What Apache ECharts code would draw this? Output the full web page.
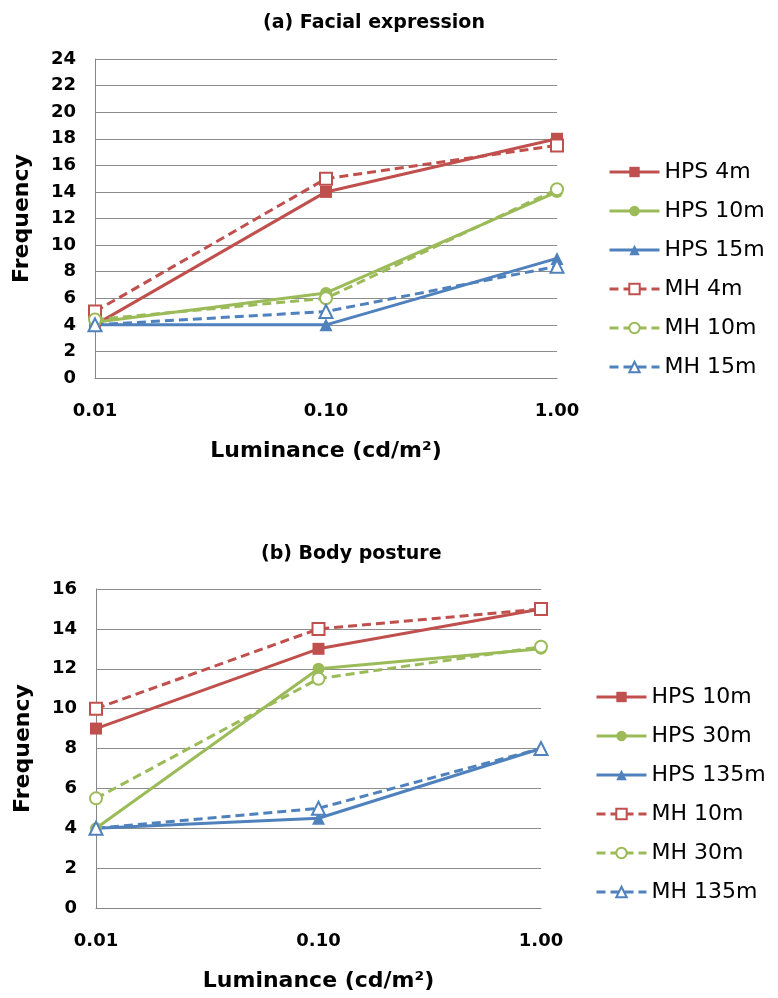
<!DOCTYPE html>
<html>
<head>
<meta charset="utf-8">
<script src="https://cdn.jsdelivr.net/npm/echarts@6/dist/echarts.min.js"></script>
<style>
  html, body { margin: 0; padding: 0; background: #fff; }
  #chartA, #chartB { position: absolute; left: 0; width: 778px; height: 499px; }
  #chartA { top: 0; }
  #chartB { top: 499px; }
</style>
</head>
<body>
<div id="chartA"></div>
<div id="chartB"></div>
<script>
// luminance levels (cd/m2), log x axis
var luminance = [0.01, 0.1, 1];

// (a) Facial expression
var namesA = ['HPS 4m', 'HPS 10m', 'HPS 15m', 'MH 4m', 'MH 10m', 'MH 15m'];
var hps4m = [4, 14, 18];
var hps10mA = [4.2, 6.4, 14];
var hps15m = [4, 4, 9];
var mh4m = [5, 15, 17.5];
var mh10mA = [4.4, 6, 14.2];
var mh15m = [4, 5, 8.4];

// (b) Body posture
var namesB = ['HPS 10m', 'HPS 30m', 'HPS 135m', 'MH 10m', 'MH 30m', 'MH 135m'];
var hps10mB = [9, 13, 15];
var hps30m = [4, 12, 13];
var hps135m = [4, 4.5, 8];
var mh10mB = [10, 14, 15];
var mh30m = [5.5, 11.5, 13.1];
var mh135m = [4, 5, 8];

var RED = '#C0504D', GREEN = '#9BBB59', BLUE = '#4F81BD';
var FONT = 'DejaVu Sans';

function pairs(vals) {
  return vals.map(function (v, i) { return [luminance[i], v]; });
}

function makeSeries(name, vals, color, symbol, dashed) {
  return {
    name: name,
    type: 'line',
    data: pairs(vals),
    symbol: symbol,
    symbolSize: symbol.indexOf('riangle') >= 0 ? 13 : 12,
    lineStyle: { color: color, width: 3, type: dashed ? [9, 5] : 'solid' },
    itemStyle: { color: color, borderColor: color, borderWidth: dashed ? 1 : 0 },
    emphasis: { disabled: true },
    animation: false
  };
}

function buildOption(cfg) {
  return {
    animation: false,
    title: {
      text: cfg.title,
      left: cfg.titleLeft,
      top: cfg.titleTop,
      textStyle: { fontFamily: FONT, fontWeight: 'bold', fontSize: 19, color: '#000' }
    },
    legend: {
      orient: 'vertical',
      left: cfg.legendLeft,
      top: cfg.legendTop,
      itemWidth: 50,
      itemHeight: 13,
      itemGap: 17,
      data: cfg.names,
      lineStyle: { width: 3 },
      textStyle: { fontFamily: FONT, fontSize: 22, color: '#000' }
    },
    grid: cfg.grid,
    xAxis: {
      type: 'log',
      logBase: 10,
      min: 0.01,
      max: 1,
      name: 'Luminance (cd/m²)',
      nameLocation: 'middle',
      nameGap: 62,
      nameTextStyle: { fontFamily: FONT, fontWeight: 'bold', fontSize: 22, color: '#000' },
      axisLine: { lineStyle: { color: '#868686', width: 1 } },
      axisTick: { show: false },
      splitLine: { show: false },
      minorSplitLine: { show: false },
      axisLabel: {
        margin: 24,
        fontFamily: FONT, fontWeight: 'bold', fontSize: 18, color: '#000',
        formatter: function (v) { return Number(v).toFixed(2); }
      }
    },
    yAxis: {
      type: 'value',
      min: 0,
      max: cfg.yMax,
      interval: 2,
      name: 'Frequency',
      nameLocation: 'middle',
      nameGap: 62,
      nameTextStyle: { fontFamily: FONT, fontWeight: 'bold', fontSize: 22, color: '#000' },
      axisLine: { show: true, lineStyle: { color: '#868686', width: 1 } },
      axisTick: { show: false },
      splitLine: { lineStyle: { color: '#8c8c8c', width: 1 } },
      axisLabel: { margin: 19, fontFamily: FONT, fontWeight: 'bold', fontSize: 18, color: '#000' }
    },
    series: cfg.series
  };
}

var optA = buildOption({
  title: '(a) Facial expression',
  titleLeft: 258, titleTop: 9,
  names: namesA,
  legendLeft: 603, legendTop: 156,
  grid: { left: 95, top: 59, width: 462, height: 319 },
  yMax: 24,
  series: [
    makeSeries(namesA[0], hps4m, RED, 'rect', false),
    makeSeries(namesA[1], hps10mA, GREEN, 'circle', false),
    makeSeries(namesA[2], hps15m, BLUE, 'triangle', false),
    makeSeries(namesA[3], mh4m, RED, 'emptyRect', true),
    makeSeries(namesA[4], mh10mA, GREEN, 'emptyCircle', true),
    makeSeries(namesA[5], mh15m, BLUE, 'emptyTriangle', true)
  ]
});

var optB = buildOption({
  title: '(b) Body posture',
  titleLeft: 256, titleTop: 41,
  names: namesB,
  legendLeft: 590, legendTop: 182,
  grid: { left: 96, top: 90, width: 445, height: 319 },
  yMax: 16,
  series: [
    makeSeries(namesB[0], hps10mB, RED, 'rect', false),
    makeSeries(namesB[1], hps30m, GREEN, 'circle', false),
    makeSeries(namesB[2], hps135m, BLUE, 'triangle', false),
    makeSeries(namesB[3], mh10mB, RED, 'emptyRect', true),
    makeSeries(namesB[4], mh30m, GREEN, 'emptyCircle', true),
    makeSeries(namesB[5], mh135m, BLUE, 'emptyTriangle', true)
  ]
});

var chartA = echarts.init(document.getElementById('chartA'), null, { renderer: 'canvas' });
chartA.setOption(optA);
var chartB = echarts.init(document.getElementById('chartB'), null, { renderer: 'canvas' });
chartB.setOption(optB);
</script>
</body>
</html>
